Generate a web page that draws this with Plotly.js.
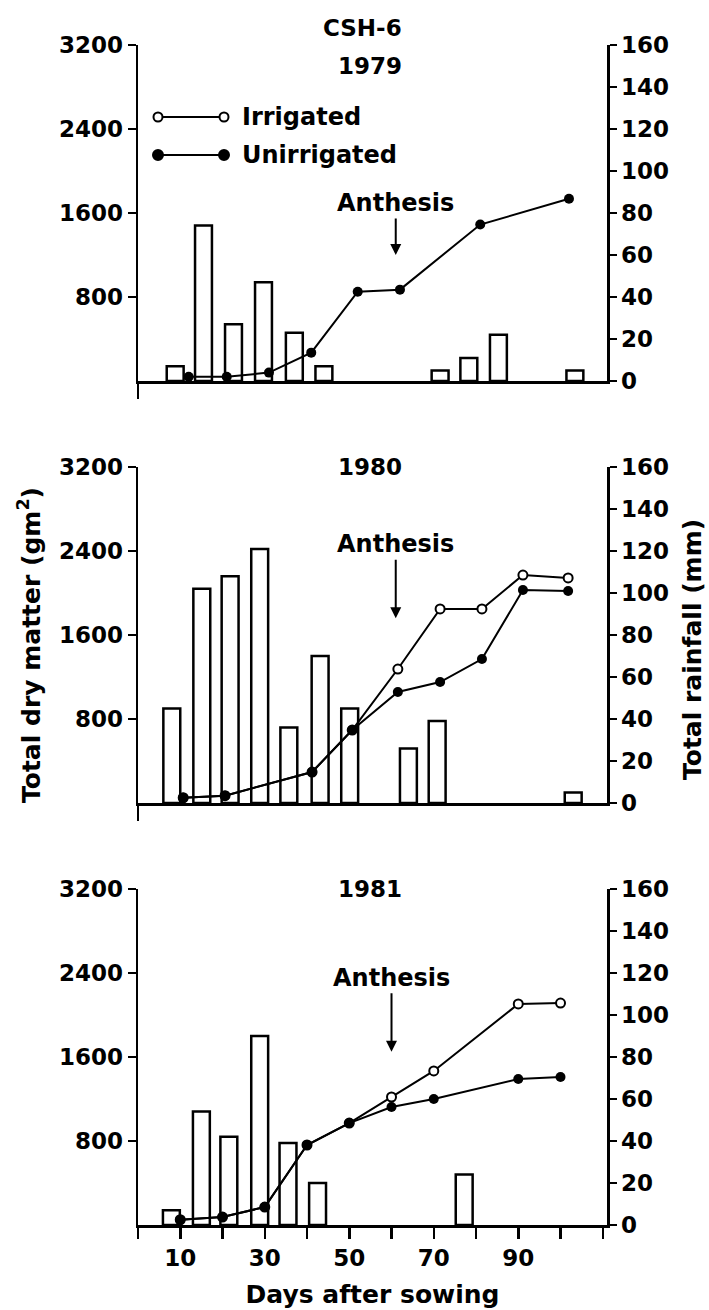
<!DOCTYPE html>
<html>
<head>
<meta charset="utf-8">
<script src="https://cdn.plot.ly/plotly-3.0.1.min.js"></script>
<style>html,body{margin:0;padding:0;background:#fff}#chart{width:709px;height:1310px}</style>
</head>
<body>
<div id="chart"></div>
<script>
// ---- Data ----
const years = ["1979", "1980", "1981"];

const rainDays1979 = [8.8, 15.5, 22.6, 29.7, 37.0, 44.0, 71.5, 78.3, 85.3, 103.4];
const rain1979     = [7, 74, 27, 47, 23, 7, 5, 11, 22, 5];
const dmDays1979   = [12, 21, 31, 41, 52, 62, 81, 102];
const unirr1979    = [40, 40, 80, 270, 850, 870, 1490, 1735];

const rainDays1980 = [8.0, 15.1, 21.8, 28.8, 35.7, 43.1, 50.1, 64.0, 70.8, 103.0];
const rain1980     = [45, 102, 108, 121, 36, 70, 45, 26, 39, 5];
const dmDays1980   = [10.7, 20.6, 41.2, 50.7, 61.5, 71.5, 81.4, 91.1, 101.8];
const irr1980      = [50, 70, 295, 695, 1276, 1848, 1848, 2171, 2143];
const unirr1980    = [50, 70, 295, 695, 1057, 1152, 1371, 2029, 2019];

const rainDays1981 = [7.9, 15.0, 21.5, 28.8, 35.5, 42.5, 77.2];
const rain1981     = [7, 54, 42, 90, 39, 20, 24];
const dmDays1981   = [10, 20, 30, 40, 50, 60, 70, 90, 100];
const irr1981      = [50, 76, 171, 762, 971, 1219, 1467, 2105, 2114];
const unirr1981    = [50, 76, 171, 762, 971, 1124, 1200, 1390, 1410];

const anthesisDay  = [61, 61, 60];
const anthesisDM   = [1200, 1760, 1650];

const dmTicks    = [800, 1600, 2400, 3200];
const rainTicks  = [0, 20, 40, 60, 80, 100, 120, 140, 160];
const dayTicks   = [10, 30, 50, 70, 90];
const seriesNames = ["Irrigated", "Unirrigated"];

// ---- Styling ----
const FAM = "DejaVu Sans";
const NUMFONT  = {family: FAM, size: 23, color: "#000", weight: "bold"};
const WORDFONT = {family: FAM, size: 24, color: "#000", weight: "bold"};
const AXW = 2.5;
const W = 709, H = 1310, ML = 138, MR = 102, MT = 45, MB = 85;
const PW = W - ML - MR, PH = H - MT - MB;
const px2x = px => (px - ML) / PW;
const px2y = py => (H - MB - py) / PH;

const panels = [
  {rainX: rainDays1979, rain: rain1979, dmX: dmDays1979, irr: null, unirr: unirr1979},
  {rainX: rainDays1980, rain: rain1980, dmX: dmDays1980, irr: irr1980, unirr: unirr1980},
  {rainX: rainDays1981, rain: rain1981, dmX: dmDays1981, irr: irr1981, unirr: unirr1981}
];

// panel pixel extents (top, bottom) -> domains
const panelPx = [[45, 381], [467, 803], [889, 1225]];
const domains = panelPx.map(([t, b]) => [Math.max(0, px2y(b)), Math.min(1, px2y(t))]);

const traces = [];
const layout = {
  width: W, height: H,
  margin: {l: ML, r: MR, t: MT, b: MB},
  paper_bgcolor: "#fff", plot_bgcolor: "rgba(0,0,0,0)",
  font: NUMFONT,
  showlegend: false,
  annotations: [],
  shapes: [],
  bargap: 0
};

panels.forEach((p, i) => {
  const xn = i === 0 ? "x" : "x" + (i + 1);
  const yr = i === 0 ? "y" : "y" + (2 * i + 1);      // rainfall (base, right)
  const yd = "y" + (2 * i + 2);                        // dry matter (overlay, left)
  const xk = i === 0 ? "xaxis" : "xaxis" + (i + 1);
  const yrk = "yaxis" + (i === 0 ? "" : (2 * i + 1));
  const ydk = "yaxis" + (2 * i + 2);

  traces.push({
    type: "bar", x: p.rainX, y: p.rain, width: 4,
    xaxis: xn, yaxis: yr, name: "Rainfall " + years[i],
    marker: {color: "#fff", line: {color: "#000", width: 2.5}},
    hoverinfo: "skip"
  });
  if (p.irr) {
    traces.push({
      type: "scatter", mode: "lines+markers", x: p.dmX, y: p.irr,
      xaxis: xn, yaxis: yd, name: seriesNames[0],
      line: {color: "#000", width: 2},
      marker: {symbol: "circle", size: 9, color: "#fff", line: {color: "#000", width: 2}},
      cliponaxis: false
    });
  }
  traces.push({
    type: "scatter", mode: "lines+markers", x: p.dmX, y: p.unirr,
    xaxis: xn, yaxis: yd, name: seriesNames[1],
    line: {color: "#000", width: 2},
    marker: {symbol: "circle", size: 10, color: "#000"},
    cliponaxis: false
  });

  const last = i === 2;
  const xa = {
    domain: [0, 1], range: [0, 111], anchor: yr,
    showline: true, linewidth: AXW, linecolor: "#000",
    showgrid: false, zeroline: false,
    tickmode: "array",
    tickvals: last ? dayTicks : [0],
    ticks: "outside", ticklen: last ? 11 : 15, tickwidth: AXW, tickcolor: "#000",
    showticklabels: last,
    tickfont: NUMFONT
  };
  if (last) {
    xa.minor = {tickmode: "linear", tick0: 0, dtick: 10, ticks: "outside", ticklen: 11,
                tickwidth: AXW, tickcolor: "#000", showgrid: false};
    xa.title = {text: "Days after sowing", font: {family: FAM, size: 25, weight: "bold", color: "#000"}, standoff: 16};
  }
  layout[xk] = xa;
  layout[yrk] = {
    domain: domains[i], range: [0, 160], anchor: xn, side: "right",
    showline: true, linewidth: AXW, linecolor: "#000",
    showgrid: false, zeroline: false,
    tickmode: "array", tickvals: rainTicks,
    ticks: "outside", ticklen: 7, tickwidth: AXW, tickcolor: "#000",
    tickfont: NUMFONT
  };
  layout[ydk] = {
    overlaying: yr, range: [0, 3200], anchor: xn, side: "left",
    showline: true, linewidth: AXW, linecolor: "#000",
    showgrid: false, zeroline: false,
    tickmode: "array", tickvals: dmTicks,
    ticks: "outside", ticklen: 8, tickwidth: AXW, tickcolor: "#000",
    tickfont: NUMFONT
  };

  // Anthesis arrow (vertical)
  layout.annotations.push({
    xref: xn, yref: yd, x: anthesisDay[i], y: anthesisDM[i],
    text: "Anthesis", showarrow: true, arrowhead: 2, arrowsize: 1.1, arrowwidth: 2,
    arrowcolor: "#000", ax: 0, ay: i === 0 ? -52 : -74,
    font: WORDFONT
  });
  // Year label
  layout.annotations.push({
    xref: "paper", yref: "paper", x: px2x(370),
    y: px2y(i === 0 ? 66 : panelPx[i][0]), yanchor: "middle",
    text: years[i], showarrow: false, font: NUMFONT
  });
});

// Cultivar title
layout.annotations.push({
  xref: "paper", yref: "paper", x: px2x(362), y: px2y(28), yanchor: "middle",
  text: "CSH-6", showarrow: false, font: NUMFONT
});

// Axis titles (shared across the three panels)
const AXTFONT = {family: FAM, size: 25, weight: "bold", color: "#000"};
layout.annotations.push({
  xref: "paper", yref: "paper", x: px2x(29), y: px2y(645), textangle: -90,
  xanchor: "center", yanchor: "middle", showarrow: false,
  text: "Total dry matter (gm<sup>2</sup>)", font: AXTFONT
});
layout.annotations.push({
  xref: "paper", yref: "paper", x: px2x(692), y: px2y(650), textangle: -90,
  xanchor: "center", yanchor: "middle", showarrow: false,
  text: "Total rainfall (mm)", font: AXTFONT
});

// Key (legend) drawn in the top panel
const keyRows = [{py: 117, filled: false}, {py: 155, filled: true}];
keyRows.forEach((k, j) => {
  layout.shapes.push({type: "line", xref: "paper", yref: "paper",
    x0: px2x(158), x1: px2x(224), y0: px2y(k.py), y1: px2y(k.py),
    line: {color: "#000", width: 2}});
  [158, 224].forEach(cx => {
    const r = k.filled ? 5 : 4.5;
    layout.shapes.push({type: "circle", xref: "paper", yref: "paper",
      xsizemode: "pixel", ysizemode: "pixel", xanchor: px2x(cx), yanchor: px2y(k.py),
      x0: -r, x1: r, y0: -r, y1: r,
      fillcolor: k.filled ? "#000" : "#fff", line: {color: "#000", width: 2}});
  });
  layout.annotations.push({
    xref: "paper", yref: "paper", x: px2x(240), y: px2y(k.py),
    xanchor: "left", yanchor: "middle", showarrow: false,
    text: seriesNames[j], font: WORDFONT
  });
});

Plotly.newPlot("chart", traces, layout, {staticPlot: true});
</script>
</body>
</html>
